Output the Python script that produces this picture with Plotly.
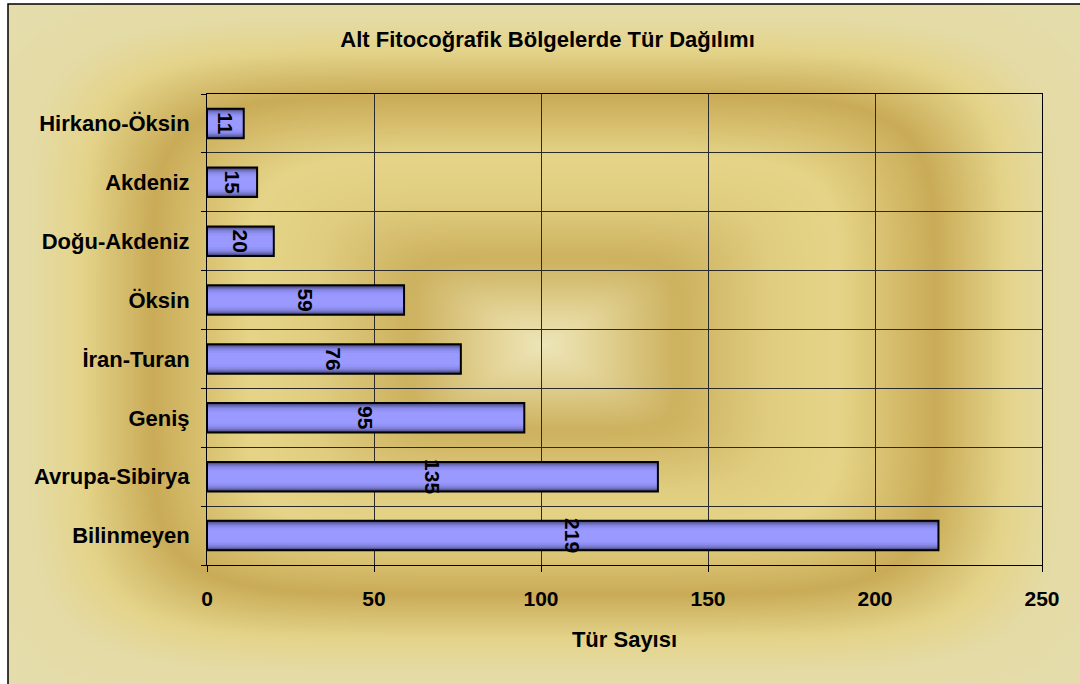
import base64
import struct
import zlib

import numpy as np
import plotly.graph_objects as go

# data
regions = ["Bilinmeyen", "Avrupa-Sibirya", "Geniş", "İran-Turan", "Öksin",
           "Doğu-Akdeniz", "Akdeniz", "Hirkano-Öksin"]
species = [219, 135, 95, 76, 59, 20, 15, 11]
x_ticks = [0, 50, 100, 150, 200, 250]

title_text = "Alt Fitocoğrafik Bölgelerde Tür Dağılımı"
x_title = "Tür Sayısı"

W, H = 1080, 684
ML, MR, MT, MB = 207, 38, 94, 119
PW, PH = W - ML - MR, H - MT - MB
FONT = "Liberation Sans, Arial, sans-serif"


def png_data_uri(rgb):
    """Encode an HxWx3 uint8 array as a PNG data uri (no PIL needed)."""
    h, w, _ = rgb.shape
    raw = b"".join(b"\x00" + rgb[r].tobytes() for r in range(h))

    def chunk(tag, data):
        body = tag + data
        return struct.pack(">I", len(data)) + body + struct.pack(">I", zlib.crc32(body) & 0xFFFFFFFF)

    png = (b"\x89PNG\r\n\x1a\n"
           + chunk(b"IHDR", struct.pack(">IIBBBBB", w, h, 8, 2, 0, 0, 0))
           + chunk(b"IDAT", zlib.compress(raw, 9))
           + chunk(b"IEND", b""))
    return "data:image/png;base64," + base64.b64encode(png).decode()


def background(w=536, h=340):
    """Excel style 'rectangle from centre' golden fill."""
    ys, xs = np.mgrid[0:h, 0:w]
    dx = np.abs((xs + 0.5) / w - 0.5) * 2
    dy = np.abs((ys + 0.5) / h - 0.5) * 2
    p = 6
    d = (dx ** p + dy ** p) ** (1 / p)
    stops = [0.0, 0.08, 0.25, 0.42, 0.55, 0.73, 0.86, 0.96, 1.2]
    cols = np.array([
        (238, 230, 186),
        (230, 216, 158),
        (205, 178, 95),
        (224, 205, 128),
        (230, 213, 136),
        (202, 172, 88),
        (228, 212, 138),
        (228, 219, 166),
        (230, 222, 176),
    ], dtype=float)
    img = np.stack([np.interp(d, stops, cols[:, c]) for c in range(3)], axis=-1)
    return img.clip(0, 255).astype(np.uint8)


def px_to_paper_x(px):
    return (px - ML) / PW


def px_to_paper_y(py):
    return (H - MB - py) / PH


fig = go.Figure()

# fake 3D shading: stacked bars, darker edges -> lighter centre
shades = [(0.5, "#3E3E72"), (0.46, "#5A5A9A"), (0.42, "#6F6FBC"),
          (0.38, "#7F7FD8"), (0.33, "#8B8BEC"), (0.27, "#9494F8"),
          (0.2, "#9999FF")]
for width, color in shades:
    fig.add_trace(go.Bar(x=species, y=regions, orientation="h", width=width,
                         marker=dict(color=color, line=dict(width=0)),
                         hoverinfo="skip", showlegend=False))

# outline + labels on top
fig.add_trace(go.Bar(
    x=species, y=regions, orientation="h", width=0.5,
    marker=dict(color="rgba(0,0,0,0)", line=dict(color="black", width=2)),
    text=[str(v) for v in species], textposition="inside",
    insidetextanchor="middle", textangle=90, constraintext="none",
    insidetextfont=dict(family=FONT, size=21, color="black", weight="bold"),
    showlegend=False,
))

fig.update_layout(
    width=W, height=H,
    barmode="overlay",
    margin=dict(l=ML, r=MR, t=MT, b=MB),
    paper_bgcolor="white",
    plot_bgcolor="rgba(0,0,0,0)",
    font=dict(family=FONT, size=22, color="black", weight="bold"),
    title=dict(text=title_text, x=0.507, xanchor="center",
               y=1 - 39 / H, yanchor="middle",
               font=dict(family=FONT, size=22, color="black", weight="bold")),
    xaxis=dict(
        range=[0, 250], tickvals=x_ticks, ticks="outside", ticklen=6,
        tickcolor="black", showline=True, linecolor="black", linewidth=1,
        mirror=True, showgrid=True, gridcolor="#2a2a2a", gridwidth=1,
        zeroline=False, ticklabelstandoff=9,
        tickfont=dict(size=21),
        title=dict(text=x_title, standoff=22, font=dict(size=22)),
    ),
    yaxis=dict(
        type="category", tickson="boundaries", ticks="outside", ticklen=5,
        tickcolor="black", showline=True, linecolor="black", linewidth=1,
        mirror=True, showgrid=True, gridcolor="#2a2a2a", gridwidth=1,
        ticklabelstandoff=12, tickfont=dict(size=22),
    ),
    images=[dict(
        source=png_data_uri(background()),
        xref="paper", yref="paper",
        x=px_to_paper_x(8), y=px_to_paper_y(4),
        sizex=1072 / PW, sizey=682 / PH,
        xanchor="left", yanchor="top", sizing="stretch", layer="below",
    )],
    shapes=[dict(
        type="rect", xref="paper", yref="paper",
        x0=px_to_paper_x(8), x1=px_to_paper_x(1090),
        y0=px_to_paper_y(700), y1=px_to_paper_y(4),
        line=dict(color="black", width=1.5), fillcolor="rgba(0,0,0,0)",
        layer="below",
    )],
)

# the page body has a default 8px margin; drop it so the figure sits at 0,0
fig.write_html("out.html", config={"displayModeBar": False},
               post_script="document.body.style.margin = '0';")
